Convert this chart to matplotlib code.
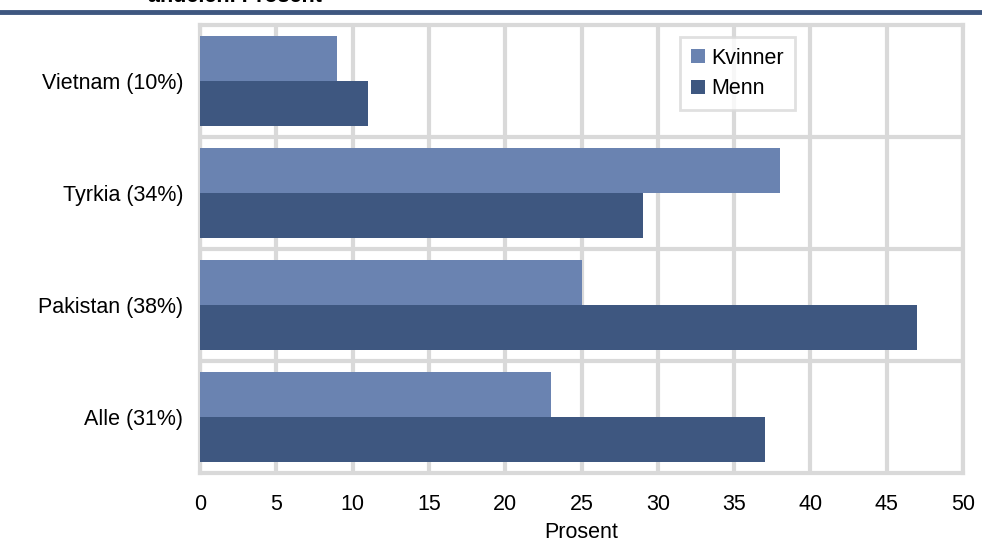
import matplotlib.pyplot as plt
import numpy as np

plt.rcParams['font.family'] = ['Liberation Sans', 'DejaVu Sans']

# Data
categories = ['Vietnam (10%)', 'Tyrkia (34%)', 'Pakistan (38%)', 'Alle (31%)']
kvinner = [9, 38, 25, 23]
menn = [11, 29, 47, 37]
x_ticks = [0, 5, 10, 15, 20, 25, 30, 35, 40, 45, 50]

col_k = '#6a83b1'
col_m = '#3e5780'
grid_col = '#d9d9d9'
fs = 15.5

fig = plt.figure(figsize=(9.82, 5.52), dpi=100)
ax = fig.add_axes([200 / 982, 1 - 473 / 552, 763 / 982, 448 / 552])

y = np.arange(len(categories))
h = 0.4
ax.barh(y - h / 2, kvinner, height=h, color=col_k, label='Kvinner', zorder=3)
ax.barh(y + h / 2, menn, height=h, color=col_m, label='Menn', zorder=3)

ax.set_xlim(0, 50)
ax.set_ylim(len(categories) - 0.5, -0.5)
ax.set_xticks(x_ticks)
ax.set_xticklabels([str(t) for t in x_ticks], fontsize=fs)
ax.set_yticks(y)
ax.set_yticklabels(categories, fontsize=fs)
ax.tick_params(axis='both', length=0)
ax.tick_params(axis='x', pad=15)
ax.tick_params(axis='y', pad=12)
ax.set_xlabel('Prosent', fontsize=fs, labelpad=5)

# grid lines
ax.set_yticks(np.arange(0.5, len(categories) - 0.5, 1), minor=True)
ax.grid(axis='x', color=grid_col, linewidth=3, zorder=0)
ax.grid(axis='y', which='minor', color=grid_col, linewidth=3, zorder=0)
ax.tick_params(axis='y', which='minor', length=0)
for s in ax.spines.values():
    s.set_color(grid_col)
    s.set_linewidth(3)

leg = ax.legend(loc='upper right', bbox_to_anchor=(795 / 982, 1 - 37 / 552),
                bbox_transform=fig.transFigure, fontsize=fs, frameon=True,
                fancybox=False, handlelength=0.65, handleheight=0.65,
                handletextpad=0.3, borderpad=0.5, labelspacing=0.45,
                borderaxespad=0)
leg.get_frame().set_edgecolor(grid_col)
leg.get_frame().set_linewidth(2)

# header line and clipped title
fig.add_artist(plt.Line2D([0, 1], [1 - 12 / 552, 1 - 12 / 552],
                          color=col_m, linewidth=3.5, transform=fig.transFigure))
fig.text(148 / 982, 1 + 4 / 552, 'andelen. Prosent', fontsize=fs,
         fontweight='bold', ha='left', va='center')

plt.savefig('out.png', dpi=100)
